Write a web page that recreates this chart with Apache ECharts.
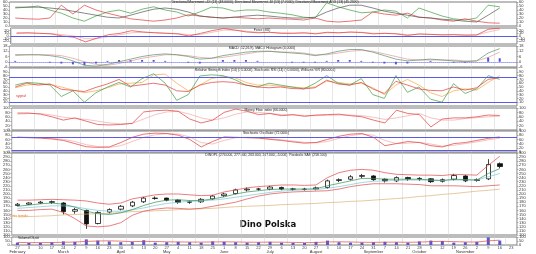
<!DOCTYPE html>
<html><head><meta charset="utf-8">
<script src="https://cdn.jsdelivr.net/npm/echarts/dist/echarts.min.js"></script>
<style>html,body{margin:0;padding:0;background:#fff}#c{width:536px;height:254px}</style>
</head><body><div id="c"></div>
<script>
// ---- categories (weekly) ----
const categories = ['2020-01-27','2020-02-03','2020-02-10','2020-02-17','2020-02-24','2020-03-02','2020-03-09','2020-03-16','2020-03-23','2020-03-30','2020-04-06','2020-04-13','2020-04-20','2020-04-27','2020-05-04','2020-05-11','2020-05-18','2020-05-25','2020-06-01','2020-06-08','2020-06-15','2020-06-22','2020-06-29','2020-07-06','2020-07-13','2020-07-20','2020-07-27','2020-08-03','2020-08-10','2020-08-17','2020-08-24','2020-08-31','2020-09-07','2020-09-14','2020-09-21','2020-09-28','2020-10-05','2020-10-12','2020-10-19','2020-10-26','2020-11-02','2020-11-09','2020-11-16','2020-11-23'];
const monthNames = ['February','March','April','May','June','July','August','September','October','November'];
const monthWeekIdx = [0,4,9,13,18,22,26,31,35,39];

// ---- DMI ----
const adx = [47,47,47,45,42,37,32,27,22,20,27,35,42,45,42,35,25,22,20,22,25,27,25,22,20,20,22,35,45,52,52,45,37,32,27,22,20,17,15,12,10,27,45];
const dmiPlus = [45,47,50,40,32,20,12,25,35,40,32,42,48,40,35,25,35,47,45,37,40,40,35,32,28,22,20,58,48,40,33,35,40,37,20,45,35,25,18,15,20,52,48];
const dmiMinus = [20,18,17,20,52,30,52,40,32,25,18,15,12,15,20,28,25,22,20,22,20,18,20,18,17,15,20,12,10,12,15,35,30,27,32,22,20,15,12,18,12,8,7];
// ---- Force ----
const force = [11,12,10,8,0,-5,-22,-8,5,10,20,15,12,10,8,0,10,20,28,22,15,12,14,10,10,12,8,14,12,15,13,8,10,8,2,8,6,4,5,3,4,25,30];
const forceSig = [10,11,10,9,5,0,-10,-10,-2,5,12,14,13,11,9,5,6,14,22,22,18,14,13,12,11,11,10,12,12,14,14,10,10,9,5,6,6,5,5,4,4,15,24];
// ---- MACD ----
const macd = [8,8,8,7,5,1,-4,-5,-3,0,3,6,8,9,8,6,3,4,7,9,11,12,12,11,10,9,7,9,12,14,14,11,7,3,1,2,3,2,1,0,1,10,15];
const macdSig = [7,8,8,8,7,4,0,-3,-4,-2,1,4,6,8,8,7,5,4,5,7,9,11,12,11,11,10,8,8,10,12,13,12,9,6,3,2,2,2,2,1,1,5,11];
const macdHist = [1,0,0,-1,-2,-3,-4,-2,1,2,2,2,2,1,0,-1,-2,0,2,2,2,1,0,0,-1,-1,-1,1,2,2,1,-1,-2,-3,-2,0,1,0,-1,-1,0,5,4];
// ---- RSI family ----
const rsiFast = [55,62,60,55,25,40,10,35,50,62,50,72,85,60,15,30,79,82,80,70,55,50,60,55,50,45,60,80,60,55,72,30,20,80,36,50,18,10,59,33,45,80,70];
const rsi = [50,60,55,58,44,41,38,49,58,70,52,56,60,55,40,38,55,62,64,62,55,50,48,50,46,45,48,68,58,55,62,45,33,65,55,45,41,40,50,42,48,70,75];
const rsiSlow = [48,55,58,57,50,42,35,40,48,58,60,62,82,84,60,40,55,72,78,75,62,55,55,52,50,48,50,65,62,58,60,48,30,55,70,55,35,25,40,45,42,62,80];
// ---- MFI ----
const mfi = [77,77,72,60,45,55,40,25,23,25,30,82,88,90,85,50,32,45,80,95,85,70,75,65,70,62,68,70,72,65,60,45,32,90,75,70,14,50,55,55,60,68,66];
const mfiSig = [72,75,75,68,58,52,48,40,32,28,30,50,70,82,85,72,55,45,55,72,82,80,75,70,68,66,65,67,68,68,65,58,48,55,65,75,55,45,45,52,56,60,63];
// ---- Stochastic ----
const stochK = [70,68,66,62,55,40,25,22,24,45,70,85,90,88,80,60,24,50,72,70,68,66,60,55,48,42,45,60,75,85,88,70,30,40,50,45,30,24,40,45,55,65,72];
const stochD = [72,70,68,65,60,50,35,26,22,30,50,70,82,87,85,72,45,38,55,68,70,68,63,58,52,46,44,50,65,78,85,80,55,40,42,46,38,28,32,40,48,58,66];
// ---- Price ----
const openP = [172,175,178,181,178,158,160,128,156,163,171,181,189,190,185,181,181,188,196,201,210,212,212,216,212,211,212,216,233,236,243,244,236,232,240,238,237,231,236,244,233,237,274];
const closeP = [175,178,180,180,157,162,127,155,162,170,180,190,190,185,180,180,187,195,200,210,212,212,217,212,212,212,215,232,235,242,245,235,232,240,237,237,230,235,245,232,235,272,267];
const lowP = [170,173,176,176,150,152,115,126,152,160,168,178,186,182,176,176,178,186,193,199,206,208,209,209,208,208,209,213,229,233,239,232,228,229,232,232,227,228,233,229,230,234,263];
const highP = [178,180,183,184,180,166,162,158,165,173,183,193,194,191,187,184,190,198,203,213,216,215,220,218,215,215,218,235,238,246,249,246,238,243,242,241,239,238,249,246,238,285,277];
const bbUpper = [185,185,186,187,186,185,183,178,175,178,188,193,198,200,200,198,196,197,205,210,215,218,220,222,222,221,222,240,252,258,260,258,252,248,247,246,246,245,248,247,246,270,292];
const bbLower = [160,160,162,163,155,140,122,120,122,130,148,158,163,166,165,163,165,170,175,180,188,195,200,203,205,206,207,208,212,218,222,225,225,225,224,223,220,220,220,219,218,220,222];
const maShort = [170,173,176,178,175,168,158,152,150,154,162,172,180,185,186,184,184,188,193,200,205,208,211,212,212,212,213,220,226,232,238,238,236,236,236,236,234,233,236,235,234,250,262];
const maMid = [165,167,169,171,171,169,164,160,158,158,161,166,172,177,180,182,183,185,188,192,196,200,204,207,209,210,211,214,218,223,228,231,232,233,234,234,234,233,234,234,234,242,250];
const maLong = [144,145,146,147,149,150,151,152,153,155,157,158,159,160,162,163,164,165,167,169,170,171,172,174,175,176,177,179,180,182,183,185,187,189,191,194,196,199,201,204,207,209,212];
// ---- Volume ----
const volume = [30,25,28,35,45,40,70,55,45,35,40,60,30,35,40,35,30,45,40,35,30,35,40,30,28,25,40,55,35,30,32,35,40,35,30,45,55,50,30,35,40,95,55];
const volMA = [32,30,30,31,34,37,45,50,52,48,42,45,44,40,38,37,36,38,40,38,35,34,36,35,33,30,31,38,40,38,34,33,35,36,34,36,42,46,42,38,37,52,60];
// ---- texts ----
const panelTitles = [
 'Directional Movement +DI (13) (48.0000), Directional Movement -DI (13) (7.0000), Directional Movement ADX (13) (45.2300)',
 'Force (BU)',
 'MACD (12,26,9), MACD Histogram (4.0000)',
 'Relative Strength Index (14) (75.0000), Stochastic RSI (14) (70.0000), Williams %R (80.0000)',
 'Money Flow Index (66.0000)',
 'Stochastic Oscillator (72.0000)',
 'DINOPL (274.000, 277.000, 263.000, 267.000, -5.000)  Parabolic SAR (258.100)',
 'Volume/Obrót'
];
const chartName = 'Dino Polska';

const F = 'Liberation Sans, Arial, sans-serif';
const grids = [
 {top:2,height:24},{top:28,height:16},{top:46,height:21},{top:68,height:38},
 {top:108,height:22},{top:131,height:21},{top:153,height:82},{top:237,height:10}
];
const scales = [[0,60,10],[-30,30,10],[-6,18,6],[0,100,10],[0,100,20],[0,100,20],[100,300,10],[0,100,50]];

const grid = grids.map(g => ({left:8,right:19,top:g.top,height:g.height,show:true,borderColor:'#7a7a7a',borderWidth:1}));
const xAxis = grids.map((g,i) => ({
  type:'category', gridIndex:i, data:categories, boundaryGap:true,
  axisLine:{show:false}, axisTick:{show:false},
  axisLabel: i===7 ? {show:true, fontSize:4, color:'#444', margin:1, interval:0, fontFamily:F,
      formatter:v=>String(parseInt(v.slice(8),10))} : {show:false},
  splitLine:{show:true, interval:1, lineStyle:{color:'#d6d6d6', width:0.6}}
}));
xAxis.push({type:'category', gridIndex:7, data:categories, boundaryGap:true, position:'bottom', offset:4,
  axisLine:{show:false}, axisTick:{show:false}, splitLine:{show:false},
  axisLabel:{show:true, fontSize:4, color:'#333', margin:1, fontFamily:F,
    interval:(idx)=>monthWeekIdx.indexOf(idx)>=0,
    formatter:(v,idx)=>{const k=monthWeekIdx.indexOf(idx);return k>=0?monthNames[k]:'';}}});

const yAxis = [];
scales.forEach((s,i)=>{
  ['left','right'].forEach(pos=>{
    yAxis.push({type:'value', gridIndex:i, min:s[0], max:s[1], interval:s[2], position:pos,
      splitLine:{show:false}, axisLine:{show:false},
      axisTick:{show:true,length:1.5,lineStyle:{color:'#777',width:0.5}},
      axisLabel:{fontSize:4, color:'#333', margin:2, fontFamily:F}});
  });
});
const yi = i => i*2;
function line(i, data, color, w){return {type:'line', xAxisIndex:i, yAxisIndex:yi(i), data, symbol:'none', lineStyle:{color, width:w||0.7}, silent:true};}
const blue = '#5a5ae8';
function hl(vals, dashed){return {silent:true, symbol:'none', label:{show:false}, lineStyle:{color:blue,width:1,type:dashed?'dotted':'solid'}, data:vals.map(v=>({yAxis:v}))};}

const series = [
  line(0, dmiPlus, '#3f9f3f'), line(0, dmiMinus, '#e03a3a'), line(0, adx, '#555555'),
  Object.assign(line(1, forceSig, '#f2a8a8'), {markLine:hl([0])}), line(1, force, '#e03a3a'),
  {type:'bar', xAxisIndex:2, yAxisIndex:yi(2), data:macdHist, barWidth:2, itemStyle:{color:'#5050d8'}, markLine:hl([0],true), silent:true},
  line(2, macdSig, '#e09a9a'), line(2, macd, '#5a8f6a'),
  Object.assign(line(3, rsiSlow, '#f0a848'), {markLine:hl([75,10])}), line(3, rsiFast, '#3f9f3f'), line(3, rsi, '#e03a3a'),
  line(4, mfiSig, '#f2a8a8'), line(4, mfi, '#e03a3a'),
  Object.assign(line(5, stochD, '#f2a8a8'), {markLine:hl([70,10])}), line(5, stochK, '#e03a3a'),
  line(6, maLong, '#d8b478'), line(6, bbUpper, '#e04848'), line(6, bbLower, '#e04848'),
  line(6, maMid, '#7cc6d6'), line(6, maShort, '#2f8f55'),
  {type:'candlestick', xAxisIndex:6, yAxisIndex:yi(6), silent:true, barWidth:5,
   data: openP.map((o,k)=>[o, closeP[k], lowP[k], highP[k]]),
   itemStyle:{color:'#ffffff', color0:'#111111', borderColor:'#111111', borderColor0:'#111111', borderWidth:0.8}},
  {type:'bar', xAxisIndex:7, yAxisIndex:yi(7), data:volume, barWidth:3, itemStyle:{color:'#5858d0'}, silent:true},
  line(7, volMA, '#e04848')
];

const titlePos = [[265,1],[262,29],[262,47],[265,69],[266,109],[266,132],[266,154],[18,237]];
const graphic = panelTitles.map((t,i)=>({type:'text', silent:true, style:{text:t, x:titlePos[i][0], y:titlePos[i][1],
  textAlign: i===7?'left':'center', fontSize:3.4, fill:'#222', fontFamily:F}}));
graphic.push({type:'text', silent:true, style:{text:chartName, x:268, y:220, textAlign:'center', fontSize:8.5, fontWeight:'bold', fill:'#111', fontFamily:'DejaVu Sans, sans-serif'}});
graphic.push({type:'text', silent:true, style:{text:'Linia trendu', x:10, y:215, fontSize:3.4, fill:'#e07a20', fontFamily:F}});
graphic.push({type:'text', silent:true, style:{text:'sygnał', x:16, y:95, fontSize:3.4, fill:'#e03030', fontFamily:F}});

const chart = echarts.init(document.getElementById('c'), null, {renderer:'canvas'});
chart.setOption({animation:false, backgroundColor:'#ffffff', grid, xAxis, yAxis, series, graphic});
</script></body></html>
